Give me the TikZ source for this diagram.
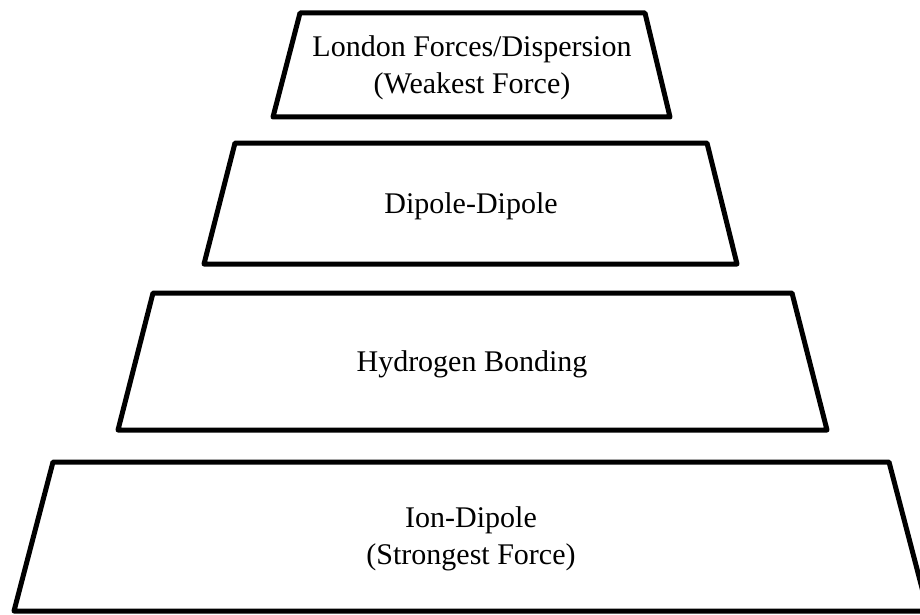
\documentclass[tikz,border=0pt]{standalone}
\usepackage{fontspec}
\setmainfont{Liberation Serif}
\begin{document}
\begin{tikzpicture}[x=1pt,y=-1pt,
  tier/.style={draw=black,line width=5pt,line join=round,fill=white},
  label/.style={align=center,font=\fontsize{30}{37}\selectfont,inner sep=0pt}]
\useasboundingbox (0,0) rectangle (920,615);
\draw[tier] (300,13) -- (645,13) -- (670,117) -- (273,117) -- cycle;
\draw[tier] (235,143) -- (707,143) -- (737,264) -- (204,264) -- cycle;
\draw[tier] (153,293) -- (792,293) -- (827,430) -- (118,430) -- cycle;
\draw[tier] (53,462) -- (889,462) -- (928,611) -- (14,611) -- cycle;
\node[label] (t1) at (472,68) {London Forces/Dispersion\\(Weakest Force)};
\node[label] (t2) at (471,206) {Dipole-Dipole};
\node[label] (t3) at (472,364) {Hydrogen Bonding};
\node[label] (t4) at (471,539) {Ion-Dipole\\(Strongest Force)};
\end{tikzpicture}
\end{document}
